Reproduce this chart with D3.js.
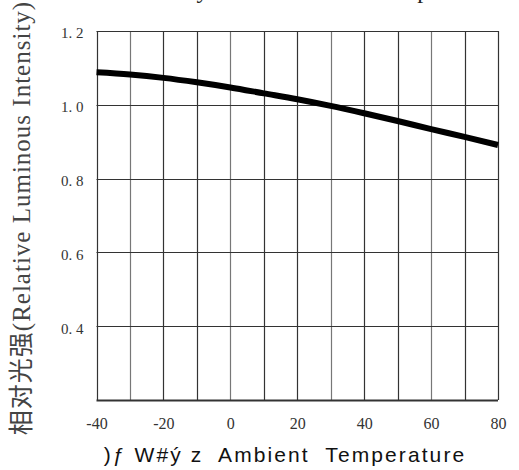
<!DOCTYPE html>
<html><head><meta charset="utf-8">
<script src="https://cdn.jsdelivr.net/npm/d3@7"></script>
<style>html,body{margin:0;padding:0;background:#fff;}svg{display:block;}</style>
</head><body>
<div id="chart"></div>
<script>
const temps = [-40, -30, -20, -10, 0, 10, 20, 30, 40, 50, 60, 70, 80];
const intensity = [1.088, 1.082, 1.073, 1.061, 1.047, 1.031, 1.015, 0.997, 0.977, 0.956, 0.934, 0.913, 0.891];
const xTickValues = [-40, -20, 0, 20, 40, 60, 80];
const xTickLabels = ["-40", "-20", "0", "20", "40", "60", "80"];
const xGridValues = [-40, -30, -20, -10, 0, 10, 20, 30, 40, 50, 60, 70, 80];
const yTickValues = [0.4, 0.6, 0.8, 1.0, 1.2];
const yTickLabels = ["0. 4", "0. 6", "0. 8", "1. 0", "1. 2"];
const yGridValues = [0.2, 0.4, 0.6, 0.8, 1.0, 1.2];
const titleText = "Intensity vs. Ambient Temperature";
const xTitle = ")\u0192 W#\u00fd z  Ambient  Temperature";
const yTitle = "相对光强(Relative Luminous Intensity)";

const W = 519, H = 470;
const m = {left: 96.5, right: 21, top: 31, bottom: 70};
const svg = d3.select("#chart").append("svg").attr("width", W).attr("height", H);
const x = d3.scaleLinear().domain([-40, 80]).range([m.left, W - m.right]);
const y = d3.scaleLinear().domain([0.2, 1.2]).range([H - m.bottom, m.top]);
const serif = "'Liberation Serif', 'Times New Roman', 'Noto Sans CJK SC', serif";

// title (mostly cut off at top, as in the reference)
svg.append("text").attr("x", 106).attr("y", -2).attr("font-family", serif)
  .attr("font-size", 24).attr("letter-spacing", 2.3).attr("fill", "#222").text(titleText);

// grid
svg.append("g").selectAll("line").data(xGridValues).join("line")
  .attr("x1", d => Math.round(x(d)) + 0.5).attr("x2", d => Math.round(x(d)) + 0.5)
  .attr("y1", y(1.2)).attr("y2", y(0.2))
  .attr("stroke", (d, i) => (i % 3 === 1 ? "#777" : "#333")).attr("stroke-width", 1.2);
svg.append("g").selectAll("line").data(yGridValues).join("line")
  .attr("x1", x(-40)).attr("x2", x(80))
  .attr("y1", d => Math.round(y(d)) + 0.5).attr("y2", d => Math.round(y(d)) + 0.5)
  .attr("stroke", "#333").attr("stroke-width", d => d === 0.2 ? 1.8 : 1.2);

// tick labels via d3 axes (no domain/tick lines)
const xAxis = d3.axisBottom(x).tickValues(xTickValues).tickSize(0).tickPadding(0)
  .tickFormat((d, i) => xTickLabels[i]);
const gx = svg.append("g").attr("transform", `translate(0,${y(0.2) + 18})`).call(xAxis);
gx.select(".domain").remove();
gx.selectAll("text").attr("font-family", serif).attr("font-size", 16).attr("fill", "#333");

const yAxis = d3.axisLeft(y).tickValues(yTickValues).tickSize(0).tickPadding(13)
  .tickFormat((d, i) => yTickLabels[i]);
const gy = svg.append("g").attr("transform", `translate(${x(-40)},2)`).call(yAxis);
gy.select(".domain").remove();
gy.selectAll("text").attr("font-family", serif).attr("font-size", 15).attr("fill", "#333")
  .style("white-space", "pre");

// curve
const line = d3.line().x((d, i) => x(temps[i])).y(d => y(d)).curve(d3.curveMonotoneX);
svg.append("path").datum(intensity).attr("d", line).attr("fill", "none")
  .attr("stroke", "#000").attr("stroke-width", 6);

// axis titles
svg.append("text").attr("x", 285).attr("y", 462).attr("text-anchor", "middle")
  .attr("font-family", "'Liberation Sans', Arial, sans-serif").attr("font-size", 21)
  .attr("letter-spacing", 2.1).style("white-space", "pre")
  .attr("fill", "#111").text(xTitle);
svg.append("text").attr("transform", `translate(30,218) rotate(-90)`).attr("text-anchor", "middle")
  .attr("font-family", serif).attr("font-size", 25).attr("letter-spacing", 1.0)
  .attr("fill", "#444").text(yTitle);
</script>
</body></html>
